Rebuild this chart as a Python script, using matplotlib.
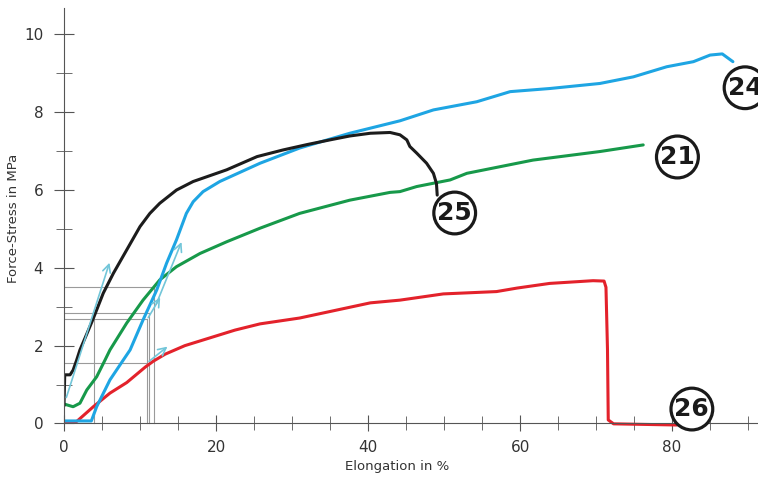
import matplotlib
matplotlib.use("Agg")
from matplotlib import pyplot as plt

x25 = [0, 0.1, 0.8, 1.2, 1.67, 2.1, 3.0, 3.86, 5.17, 6.5, 8.25, 10, 11.3, 12.6, 14.8, 17, 21.4, 25.4, 28.8, 32, 35, 37.6, 40.3, 42.9, 44.2, 45.1, 45.5, 46.4, 47.7, 48.6, 49.0, 49.1]
y25 = [0.45, 1.25, 1.25, 1.37, 1.63, 1.89, 2.3, 2.7, 3.35, 3.86, 4.46, 5.06, 5.4, 5.66, 6.0, 6.22, 6.52, 6.86, 7.03, 7.17, 7.29, 7.39, 7.46, 7.48, 7.42, 7.29, 7.12, 6.95, 6.69, 6.43, 6.17, 5.87]

x24 = [0, 3.6, 4.3, 6.05, 7.8, 8.7, 10.4, 12.2, 13.5, 14.8, 16.1, 17, 18.3, 20.5, 25.8, 31, 37.6, 44.2, 48.6, 54.3, 58.7, 63.9, 70.5, 74.9, 79.3, 82.8, 85, 86.6, 88]
y24 = [0.064, 0.064, 0.43, 1.12, 1.63, 1.89, 2.66, 3.43, 4.12, 4.72, 5.4, 5.7, 5.96, 6.22, 6.69, 7.08, 7.46, 7.78, 8.06, 8.27, 8.53, 8.61, 8.74, 8.91, 9.17, 9.3, 9.47, 9.5, 9.3]

x21 = [0, 1.2, 2.1, 3.0, 4.3, 5.4, 6.05, 8.25, 10.4, 12.6, 14.8, 17.9, 21.4, 25.8, 31, 37.6, 42.9, 44.2, 46.4, 50.8, 53, 61.7, 70.5, 76.2]
y21 = [0.5, 0.43, 0.52, 0.86, 1.2, 1.63, 1.89, 2.58, 3.17, 3.69, 4.03, 4.37, 4.67, 5.02, 5.4, 5.74, 5.94, 5.96, 6.09, 6.26, 6.43, 6.77, 6.99, 7.16]

x26 = [0, 1.67, 3.86, 6.05, 8.25, 10.7, 11.75, 13.3, 15.9, 19.2, 22.5, 25.8, 31, 40.3, 44.2, 49.9, 56.9, 59.6, 63.9, 69.6, 71.05, 71.3, 71.5, 71.6, 72.3, 80.6]
y26 = [0.03, 0.05, 0.43, 0.78, 1.05, 1.45, 1.6, 1.78, 2.0, 2.2, 2.4, 2.56, 2.71, 3.1, 3.17, 3.33, 3.39, 3.48, 3.6, 3.67, 3.66, 3.5, 1.9, 0.09, -0.01, -0.04]

# construction lines (horizontal: y, x_end ; vertical: x, y_end)
h_lines = [(3.52, 11.8), (2.83, 11.2), (2.68, 10.9), (1.56, 10.9)]
v_lines = [(4.0, 2.68), (10.9, 2.68), (11.2, 2.83), (11.8, 3.52)]

# tangent arrows (start, end)
arrows = [((0.2, 0.6), (6.1, 4.2)), ((12.0, 3.0), (15.6, 4.73)),
          ((10.9, 2.66), (12.85, 3.3)), ((10.9, 1.55), (13.9, 2.02))]

# sample labels
labels = ["24", "21", "25", "26"]
label_x = [89.6, 80.7, 51.4, 82.6]
label_y = [8.63, 6.85, 5.41, 0.37]

fig = plt.figure(figsize=(7.58, 4.79), dpi=100)
ax = fig.add_axes([0.0844, 0.1038, 0.9156, 0.8795])

for y, xe in h_lines:
    ax.plot([0, xe], [y, y], color="#9a9a9a", lw=0.8)
for x, ye in v_lines:
    ax.plot([x, x], [0, ye], color="#9a9a9a", lw=0.8)

style = dict(lw=2.2, solid_joinstyle="round", solid_capstyle="round")
ax.plot(x26, y26, color="#e3222b", **style)
ax.plot(x21, y21, color="#17994a", **style)
ax.plot(x24, y24, color="#1ea5e3", **style)
ax.plot(x25, y25, color="#1c1c1c", **style)

for (x0, y0), (x1, y1) in arrows:
    ax.annotate("", xy=(x1, y1), xytext=(x0, y0),
                arrowprops=dict(arrowstyle="->", color="#72c6d9", lw=1.2, mutation_scale=14))

for t, x, y in zip(labels, label_x, label_y):
    ax.text(x, y, t, fontsize=18, fontweight="bold", color="#1a1a1a",
            ha="center", va="center", clip_on=False,
            bbox=dict(boxstyle="circle,pad=0.14", fc="white", ec="#1a1a1a", lw=2.3))

ax.set_xlim(0, 91.3)
ax.set_ylim(-0.15, 10.68)
for s in ["top", "right"]:
    ax.spines[s].set_visible(False)
ax.spines["bottom"].set_position(("data", 0))
ax.spines["left"].set_bounds(0, 10.68)
ax.spines["left"].set_color("#555555")
ax.spines["bottom"].set_color("#555555")

ax.set_xticks([0, 20, 40, 60, 80])
ax.set_xticks(range(0, 95, 5), minor=True)
ax.set_yticks([0, 2, 4, 6, 8, 10])
ax.set_yticks(range(0, 11), minor=True)
ax.tick_params(which="both", direction="inout", color="#555555")
ax.tick_params(axis="x", which="major", length=12, pad=6, labelsize=11, labelcolor="#333333")
ax.tick_params(axis="x", which="minor", length=10)
ax.tick_params(axis="y", which="major", length=14, pad=8, labelsize=11, labelcolor="#333333")
ax.tick_params(axis="y", which="minor", length=12)

ax.set_xlabel("Elongation in %", fontsize=9.5, color="#333333")
ax.xaxis.set_label_coords(0.48, -0.072)
ax.set_ylabel("Force-Stress in MPa", fontsize=9.5, color="#333333")
ax.yaxis.set_label_coords(-0.063, 0.5)

plt.savefig("out.png", dpi=100)
